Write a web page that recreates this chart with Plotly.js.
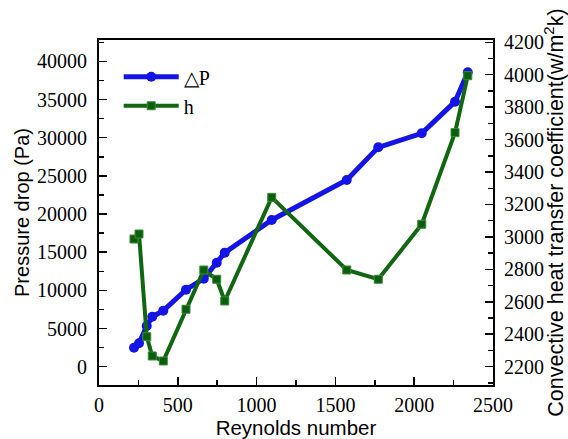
<!DOCTYPE html>
<html>
<head>
<meta charset="utf-8">
<script src="https://cdn.plot.ly/plotly-3.0.1.min.js"></script>
<style>html,body{margin:0;padding:0;background:#fff;}#chart{width:568px;height:439px;}</style>
</head>
<body>
<div id="chart"></div>
<script>
// Reynolds numbers (shared by both series)
const reynolds = [222, 254, 303, 338, 408, 552, 665, 747, 798, 1096, 1572, 1772, 2048, 2259, 2340];
// Pressure drop (Pa)
const pressureDrop = [2490, 3070, 5330, 6550, 7340, 10090, 11530, 13620, 14940, 19220, 24460, 28740, 30580, 34720, 38570];
// Convective heat transfer coefficient (w/m^2k)
const heatCoeff = [2987, 3018, 2385, 2266, 2235, 2554, 2796, 2739, 2605, 3244, 2796, 2739, 3078, 3643, 3994];
const seriesNames = ['\u25B3P', 'h'];

const serif = 'Liberation Serif, Times New Roman, serif';
const sans = 'Liberation Sans, Arial, sans-serif';

const traces = [
  {
    x: reynolds, y: pressureDrop, name: seriesNames[0], type: 'scatter', mode: 'lines+markers',
    line: {color: '#1414e6', width: 5},
    marker: {symbol: 'circle', size: 10, color: '#1414e6'},
    yaxis: 'y'
  },
  {
    x: reynolds, y: heatCoeff, name: seriesNames[1], type: 'scatter', mode: 'lines+markers',
    line: {color: '#116611', width: 4},
    marker: {symbol: 'square', size: 8, color: '#0b5e0b', line: {color: '#3a8a3a', width: 1}},
    yaxis: 'y2'
  }
];

const layout = {
  width: 568, height: 439,
  margin: {l: 99, r: 75, t: 40, b: 54, pad: 0},
  paper_bgcolor: '#ffffff', plot_bgcolor: '#ffffff',
  showlegend: true,
  legend: {x: 0.05, y: 0.95, xanchor: 'left', yanchor: 'top', bgcolor: 'rgba(0,0,0,0)',
           itemwidth: 55,
           font: {family: serif, size: 20, color: '#000'}, tracegroupgap: 0},
  xaxis: {
    range: [0, 2500], dtick: 500, tick0: 0, tickformat: 'd',
    showline: true, linecolor: '#000', linewidth: 2, mirror: true,
    ticks: 'inside', ticklen: 8, tickwidth: 1.5, tickcolor: '#000',
    minor: {dtick: 250, ticks: 'inside', ticklen: 5, tickwidth: 1.5, tickcolor: '#000'},
    showgrid: false, zeroline: false,
    tickfont: {family: serif, size: 20, color: '#000'},
    ticklabelstandoff: 1,
    title: {text: 'Reynolds number', font: {family: sans, size: 20.5, color: '#000'}, standoff: 0}
  },
  yaxis: {
    range: [-2400, 42800], dtick: 5000, tick0: 0, tickformat: 'd',
    showline: true, linecolor: '#000', linewidth: 2,
    ticks: 'inside', ticklen: 8, tickwidth: 1.5, tickcolor: '#000',
    minor: {dtick: 2500, ticks: 'inside', ticklen: 5, tickwidth: 1.5, tickcolor: '#000'},
    showgrid: false, zeroline: false,
    tickfont: {family: serif, size: 20, color: '#000'},
    ticklabelstandoff: 6,
    title: {text: 'Pressure drop (Pa)', font: {family: sans, size: 20, color: '#000'}, standoff: 2}
  },
  yaxis2: {
    overlaying: 'y', side: 'right',
    range: [2087, 4214], dtick: 200, tick0: 2200, tickformat: 'd',
    showline: true, linecolor: '#000', linewidth: 2,
    ticks: 'inside', ticklen: 8, tickwidth: 1.5, tickcolor: '#000',
    minor: {dtick: 100, ticks: 'inside', ticklen: 5, tickwidth: 1.5, tickcolor: '#000'},
    showgrid: false, zeroline: false,
    tickfont: {family: serif, size: 20, color: '#000'},
    ticklabelstandoff: 5,
    title: {text: 'Convective heat transfer coefficient(w/m<sup>2</sup>k)', font: {family: sans, size: 21.5, color: '#000'}, standoff: 0}
  }
};

Plotly.newPlot('chart', traces, layout, {displayModeBar: false, staticPlot: true});
</script>
</body>
</html>
